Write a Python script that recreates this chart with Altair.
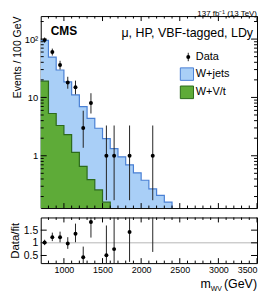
import altair as alt
import pandas as pd

# ---------------- data ----------------
bin_lo = [700, 800, 900, 1000, 1100, 1200, 1300, 1400, 1500, 1600,
          1700, 1800, 1900, 2000, 2100, 2200, 2300]
bin_width = 100
wjets = [76.0, 43.7, 26.2, 16.2, 9.9, 6.3, 4.0, 2.7, 1.8, 1.33,
         0.96, 0.70, 0.51, 0.38, 0.27, 0.21, 0.16]
vt = [19.0, 5.3, 3.3, 2.3, 1.14, 0.66, 0.39, 0.26, 0.16]

data_x = [750, 850, 950, 1050, 1150, 1250, 1350, 1550, 1650, 1850, 2150]
data_n = [96, 60, 36, 18, 15, 3, 8, 1, 1, 1, 1]
data_lo = [86.4, 52.3, 30.1, 14.1, 11.3, 1.37, 5.3, 0.173, 0.173, 0.173, 0.173]
data_hi = [106.6, 68.7, 42.5, 22.6, 19.4, 5.92, 11.8, 3.30, 3.30, 3.30, 3.30]

x_major = [1000, 1500, 2000, 2500, 3000, 3500]
x_minor = [800, 900, 1100, 1200, 1300, 1400, 1600, 1700, 1800, 1900,
           2100, 2200, 2300, 2400, 2600, 2700, 2800, 2900, 3100, 3200,
           3300, 3400]
y_major = [1, 10, 100]
y_minor = [0.2, 0.3, 0.4, 0.5, 0.6, 0.7, 0.8, 0.9,
           2, 3, 4, 5, 6, 7, 8, 9,
           20, 30, 40, 50, 60, 70, 80, 90, 200]
r_major = [0.5, 1, 1.5]

# ---------------- styling ----------------
FONT = "Liberation Sans"
BLUE_FILL = "#a9cff7"
BLUE_LINE = "#4a80d4"
GREEN_FILL = "#5eab38"
GREEN_LINE = "#2c6a1c"

W = 218
H_MAIN = 193.5
H_RATIO = 46
XMIN, XMAX = 700, 3500
YMIN, YMAX = 0.127, 248
RMIN, RMAX = 0.2, 2.0

xs = alt.Scale(domain=[XMIN, XMAX], nice=False, zero=False)
ys = alt.Scale(type="log", domain=[YMIN, YMAX], nice=False)
rs = alt.Scale(domain=[RMIN, RMAX], nice=False, zero=False)

# stacked tops
total = [wjets[i] + (vt[i] if i < len(vt) else 0.0) for i in range(len(wjets))]
last_edge = bin_lo[-1] + bin_width
vt_edge = bin_lo[len(vt) - 1] + bin_width

blue_df = pd.DataFrame({"x": bin_lo + [last_edge], "top": total + [YMIN]})
blue_df["base"] = YMIN
green_df = pd.DataFrame({"x": bin_lo[:len(vt)] + [vt_edge], "top": vt + [YMIN]})
green_df["base"] = YMIN

d_df = pd.DataFrame({"x": data_x, "n": data_n, "lo": data_lo, "hi": data_hi})
idx = [(x - bin_lo[0]) // bin_width for x in data_x]
d_df["fit"] = [total[i] for i in idx]
d_df["r"] = d_df["n"] / d_df["fit"]
d_df["rlo"] = d_df["lo"] / d_df["fit"]
d_df["rhi"] = d_df["hi"] / d_df["fit"]

one = pd.DataFrame({"a": [0]})

# ---------------- axes (same object on every layer so they merge) ----------------
main_x_axis = None
main_y_axis = alt.Axis(
    values=y_major,
    labelExpr="datum.value >= 100 ? '10\u00b2' : (datum.value >= 10 ? '10' : '1')",
    ticks=False, domain=False, grid=False,
    labelFontSize=9.5, labelPadding=3, labelFont=FONT,
    title="Events / 100 GeV", titleFontSize=10.5, titleFontWeight="normal",
    titleFont=FONT, titleAnchor="end", titlePadding=2,
)
ratio_y_axis = alt.Axis(
    values=r_major, format="~g", ticks=False, domain=False, grid=False,
    labelFontSize=10.5, labelPadding=3, labelFont=FONT,
    title="Data/fit", titleFontSize=11.5, titleFontWeight="normal", titleFont=FONT,
    titlePadding=3,
)
ratio_x_axis = alt.Axis(
    values=x_major, format="d", ticks=False, domain=False, grid=False,
    labelFontSize=9, labelPadding=2, labelFont=FONT, title=None,
)

# ---------------- main panel ----------------
blue = alt.Chart(blue_df).mark_area(
    interpolate="step-after", color=BLUE_FILL, opacity=1,
    line={"color": BLUE_LINE, "strokeWidth": 1.2}
).encode(
    x=alt.X("x:Q", scale=xs, axis=main_x_axis),
    y=alt.Y("top:Q", scale=ys, axis=main_y_axis),
    y2="base:Q",
)

green = alt.Chart(green_df).mark_area(
    interpolate="step-after", color=GREEN_FILL, opacity=1,
    line={"color": GREEN_LINE, "strokeWidth": 1.2}
).encode(
    x=alt.X("x:Q", scale=xs, axis=main_x_axis),
    y=alt.Y("top:Q", scale=ys, axis=main_y_axis),
    y2="base:Q",
)


def x_ticks(values, length, height, x_axis):
    df = pd.DataFrame({"v": values})
    base = alt.Chart(df).mark_rule(color="black", strokeWidth=1)
    bottom = base.encode(x=alt.X("v:Q", scale=xs, axis=x_axis),
                         y=alt.value(height), y2=alt.value(height - length))
    top = base.encode(x=alt.X("v:Q", scale=xs, axis=x_axis),
                      y=alt.value(0), y2=alt.value(length))
    return [bottom, top]


def y_ticks(values, length, scale_y, y_axis):
    df = pd.DataFrame({"v": values})
    base = alt.Chart(df).mark_rule(color="black", strokeWidth=1)
    left = base.encode(y=alt.Y("v:Q", scale=scale_y, axis=y_axis),
                       x=alt.value(0), x2=alt.value(length))
    right = base.encode(y=alt.Y("v:Q", scale=scale_y, axis=y_axis),
                        x=alt.value(W), x2=alt.value(W - length))
    return [left, right]


main_ticks = (x_ticks(x_major, 5, H_MAIN, main_x_axis)
              + x_ticks(x_minor, 2.5, H_MAIN, main_x_axis)
              + y_ticks(y_major, 6, ys, main_y_axis)
              + y_ticks(y_minor, 3, ys, main_y_axis))

err = alt.Chart(d_df).mark_rule(color="#222222", strokeWidth=1).encode(
    x=alt.X("x:Q", scale=xs, axis=main_x_axis),
    y=alt.Y("lo:Q", scale=ys, axis=main_y_axis),
    y2="hi:Q",
)
pts = alt.Chart(d_df).mark_circle(color="black", size=16, opacity=1).encode(
    x=alt.X("x:Q", scale=xs, axis=main_x_axis),
    y=alt.Y("n:Q", scale=ys, axis=main_y_axis),
)


def label(text, x, y, size, align="left", baseline="alphabetic", weight="normal"):
    return alt.Chart(pd.DataFrame({"t": [text]})).mark_text(
        align=align, baseline=baseline, fontSize=size, font=FONT,
        fontWeight=weight, color="black"
    ).encode(text="t:N", x=alt.value(x), y=alt.value(y))


texts = [
    label("CMS", 10, 19.5, 12, weight="bold"),
    label("\u03bc, HP, VBF-tagged, LDy", 214, 21.5, 12.5, align="right"),
    label("137 fb\u207b\u00b9 (13 TeV)", W, -0.5, 8, align="right"),
    label("Data", 156.3, 41.2, 11, baseline="middle"),
    label("W+jets", 156.3, 58.5, 11, baseline="middle"),
    label("W+V/t", 156.3, 76.8, 11, baseline="middle"),
]

leg_data_bar = alt.Chart(one).mark_rule(color="#222222", strokeWidth=1).encode(
    x=alt.value(148.7), y=alt.value(37), y2=alt.value(45.5))
leg_data_pt = alt.Chart(one).mark_circle(color="black", size=16, opacity=1).encode(
    x=alt.value(148.7), y=alt.value(41.2))
leg_blue = alt.Chart(one).mark_rect(color=BLUE_FILL, stroke=BLUE_LINE, strokeWidth=1).encode(
    x=alt.value(140.7), x2=alt.value(154), y=alt.value(52.2), y2=alt.value(64.8))
leg_green = alt.Chart(one).mark_rect(color=GREEN_FILL, stroke=GREEN_LINE, strokeWidth=1).encode(
    x=alt.value(140.7), x2=alt.value(154), y=alt.value(70.5), y2=alt.value(83.2))

main = alt.layer(
    blue, green, *main_ticks, err, pts, leg_data_bar, leg_data_pt, leg_blue, leg_green, *texts
).properties(width=W, height=H_MAIN)

# ---------------- ratio panel ----------------
hline = alt.Chart(pd.DataFrame({"v": [1]})).mark_rule(color="#b5b5b5", strokeWidth=1).encode(
    y=alt.Y("v:Q", scale=rs, axis=ratio_y_axis),
)
ratio_ticks = (x_ticks(x_major, 5, H_RATIO, ratio_x_axis)
               + x_ticks(x_minor, 2.5, H_RATIO, ratio_x_axis)
               + y_ticks(r_major, 6, rs, ratio_y_axis))
rerr = alt.Chart(d_df).mark_rule(color="#222222", strokeWidth=1, clip=True).encode(
    x=alt.X("x:Q", scale=xs, axis=ratio_x_axis),
    y=alt.Y("rlo:Q", scale=rs, axis=ratio_y_axis),
    y2="rhi:Q",
)
rpts = alt.Chart(d_df).mark_circle(color="black", size=16, opacity=1, clip=True).encode(
    x=alt.X("x:Q", scale=xs, axis=ratio_x_axis),
    y=alt.Y("r:Q", scale=rs, axis=ratio_y_axis),
)
xtitle = [
    label("m", 171.4, 71.5, 12.5, align="right"),
    label("WV", 171.4, 74.5, 7),
    label("(GeV)", W, 71.5, 12.5, align="right"),
]

ratio = alt.layer(
    hline, *ratio_ticks, rerr, rpts, *xtitle
).properties(width=W, height=H_RATIO)

chart = alt.vconcat(main, ratio, spacing=5).properties(
    padding={"left": 0, "top": 0, "right": 0, "bottom": 0}
).configure(font=FONT).configure_view(stroke="black", strokeWidth=1)

chart.save("out.html", embed_options={"renderer": "svg", "actions": False})
